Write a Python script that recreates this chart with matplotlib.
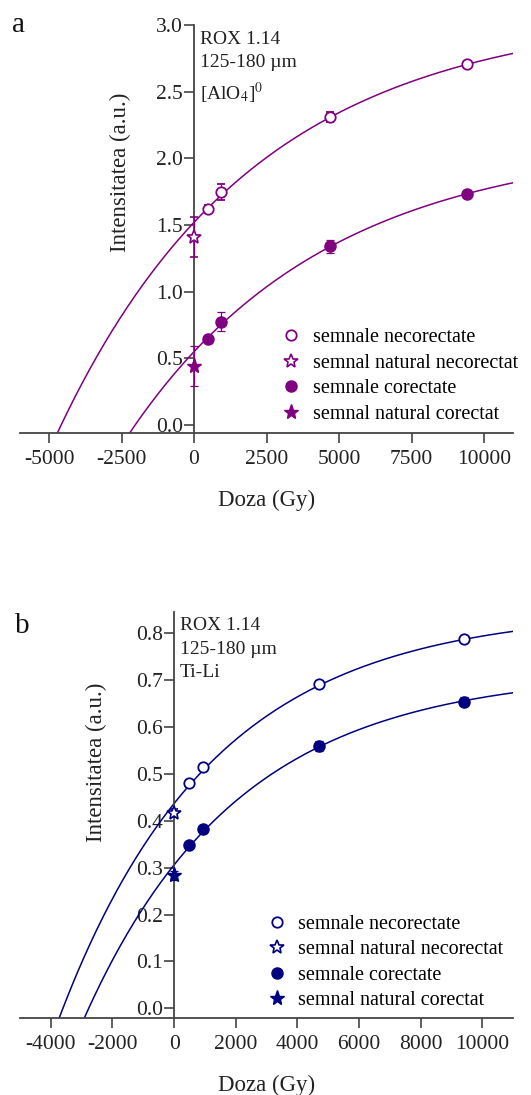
import numpy as np
import matplotlib
matplotlib.use("Agg")
import matplotlib.pyplot as plt
from matplotlib.lines import Line2D

plt.rcParams['font.family'] = ['Liberation Serif', 'DejaVu Serif']
plt.rcParams['mathtext.fontset'] = 'stix'
plt.rcParams['axes.unicode_minus'] = False

# doze de iradiere (Gy)
doses = [470, 940, 4700, 9400]

# panoul a: centrul [AlO4]0
a_necor = [1.62, 1.75, 2.31, 2.705]
a_necor_err = [0.03, 0.06, 0.04, 0.02]
a_cor = [0.645, 0.775, 1.34, 1.73]
a_cor_err = [0.03, 0.07, 0.05, 0.03]
a_nat_necor, a_nat_necor_err = 1.41, 0.15
a_nat_cor, a_nat_cor_err = 0.44, 0.15
# parametri fit I = A - B*exp(-D/Dc)
a_fit_necor = (3.10, 1.58, 6800)
a_fit_cor = (2.13, 1.58, 6800)

# panoul b: centrul Ti-Li
b_necor = [0.48, 0.514, 0.691, 0.787]
b_necor_err = [0.005, 0.005, 0.006, 0.006]
b_cor = [0.348, 0.383, 0.56, 0.654]
b_cor_err = [0.006, 0.008, 0.01, 0.01]
b_nat_necor, b_nat_necor_err = 0.417, 0.008
b_nat_cor, b_nat_cor_err = 0.284, 0.01
b_fit_necor = (0.850, 0.413, 5000)
b_fit_cor = (0.719, 0.413, 5000)

legend_labels = ['semnale necorectate', 'semnal natural necorectat',
                 'semnale corectate', 'semnal natural corectat']


def fit_curve(d, params):
    A, B, Dc = params
    return A - B * np.exp(-d / Dc)


def draw_panel(ax, color, necor, necor_err, cor, cor_err, nat_necor, nat_necor_err,
               nat_cor, nat_cor_err, fit_necor, fit_cor, xlim, ylim, xticks, yticks,
               info, ylab_pos, leg_anchor):
    d = np.linspace(xlim[0], xlim[1], 600)
    for p in (fit_necor, fit_cor):
        ax.plot(d, fit_curve(d, p), color=color, lw=1.1, zorder=2)

    ekw = dict(ecolor=color, elinewidth=0.9, capsize=3, capthick=0.9, ls='none', zorder=3)
    ax.errorbar(doses, necor, yerr=necor_err, marker='o', ms=7.5, mfc='white',
                mec=color, mew=1.3, **ekw)
    ax.errorbar(doses, cor, yerr=cor_err, marker='o', ms=8, mfc=color, mec=color, **ekw)
    ax.errorbar([0], [nat_necor], yerr=[nat_necor_err], marker='*', ms=10, mfc='white',
                mec=color, mew=1.2, **ekw)
    ax.errorbar([0], [nat_cor], yerr=[nat_cor_err], marker='*', ms=11, mfc=color,
                mec=color, **ekw)

    ax.set_xlim(*xlim)
    ax.set_ylim(*ylim)
    ax.set_xticks(xticks)
    ax.set_yticks(yticks)
    ax.set_yticklabels(['%.1f' % v for v in yticks])
    ax.spines['left'].set_position(('data', 0))
    ax.spines['left'].set_bounds(ylim[0], ylim[1])
    for s in ('top', 'right'):
        ax.spines[s].set_visible(False)
    for s in ('left', 'bottom'):
        ax.spines[s].set_color('#444444')
        ax.spines[s].set_linewidth(1.3)
    ax.tick_params(axis='both', direction='out', length=7, width=1.2, color='#444444',
                   labelsize=15.5, labelcolor='#222222')
    ax.tick_params(axis='y', pad=1)
    ax.tick_params(axis='x', pad=5)

    ax.set_xlabel('Doza (Gy)', fontsize=16.5, color='#222222', labelpad=15)
    ax.set_ylabel('Intensitatea (a.u.)', fontsize=16.5, color='#222222')
    ax.yaxis.set_label_coords(*ylab_pos)

    ax.annotate(info, xy=(0, ylim[1]), xycoords='data', xytext=(4, -4),
                textcoords='offset points', ha='left', va='top', fontsize=14,
                color='#222222', linespacing=1.5)

    handles = [
        Line2D([], [], ls='none', marker='o', ms=7.5, mfc='white', mec=color, mew=1.3),
        Line2D([], [], ls='none', marker='*', ms=10, mfc='white', mec=color, mew=1.2),
        Line2D([], [], ls='none', marker='o', ms=8, mfc=color, mec=color),
        Line2D([], [], ls='none', marker='*', ms=11, mfc=color, mec=color),
    ]
    ax.legend(handles, legend_labels, loc='lower left', bbox_to_anchor=leg_anchor,
              frameon=False, fontsize=14.5, handletextpad=0.55, labelspacing=0.32,
              handlelength=1.0, borderpad=0, borderaxespad=0)


fig = plt.figure(figsize=(5.31, 10.95), dpi=100)
ax_a = fig.add_axes([0.0377, 0.6043, 0.9284, 0.3729])
ax_b = fig.add_axes([0.0377, 0.0700, 0.9284, 0.3713])

draw_panel(ax_a, '#800080', a_necor, a_necor_err, a_cor, a_cor_err,
           a_nat_necor, a_nat_necor_err, a_nat_cor, a_nat_cor_err,
           a_fit_necor, a_fit_cor, (-6000, 11000), (-0.062, 3.0),
           [-5000, -2500, 0, 2500, 5000, 7500, 10000], [0.0, 0.5, 1.0, 1.5, 2.0, 2.5, 3.0],
           'ROX 1.14\n125-180 µm\n[AlO$_4$]$^0$', (0.225, 0.64), (0.53, 0.023))

draw_panel(ax_b, '#000080', b_necor, b_necor_err, b_cor, b_cor_err,
           b_nat_necor, b_nat_necor_err, b_nat_cor, b_nat_cor_err,
           b_fit_necor, b_fit_cor, (-5000, 11000), (-0.0213, 0.846),
           [-4000, -2000, 0, 2000, 4000, 6000, 8000, 10000],
           [0.0, 0.1, 0.2, 0.3, 0.4, 0.5, 0.6, 0.7, 0.8],
           'ROX 1.14\n125-180 µm\nTi-Li', (0.177, 0.63), (0.50, 0.02))

fig.text(12 / 531, 1 - 32 / 1095, 'a', fontsize=21, color='#111111')
fig.text(15 / 531, 1 - 633 / 1095, 'b', fontsize=21, color='#111111')

fig.savefig('out.png', dpi=100)
